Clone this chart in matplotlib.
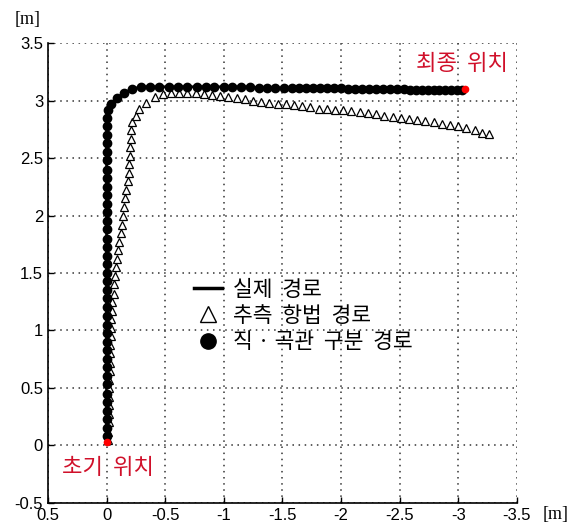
import matplotlib.pyplot as plt
from matplotlib.lines import Line2D

plt.rcParams['font.family'] = ['Liberation Sans', 'Noto Sans CJK KR', 'DejaVu Sans']

# 직·곡관 구분 경로 (circles), also the actual path
circ_x = [0.0] * 38 + [-0.01, -0.04, -0.09, -0.15, -0.22, -0.29,
          -0.37, -0.45, -0.53, -0.61, -0.69, -0.77, -0.85, -0.92, -1.00, -1.07,
          -1.15, -1.22, -1.30, -1.37, -1.44, -1.51, -1.58, -1.64, -1.70, -1.76,
          -1.82, -1.88, -1.94, -2.00, -2.06, -2.12, -2.18, -2.24, -2.30, -2.36,
          -2.42, -2.48, -2.54, -2.59, -2.64, -2.69, -2.74, -2.79, -2.84, -2.89,
          -2.94, -2.99, -3.03]
circ_y = [0.08, 0.15, 0.23, 0.30, 0.38, 0.45, 0.53, 0.60, 0.68, 0.75, 0.83, 0.90,
          0.98, 1.05, 1.13, 1.20, 1.28, 1.35, 1.43, 1.50, 1.58, 1.65, 1.73, 1.80,
          1.88, 1.95, 2.03, 2.10, 2.18, 2.25, 2.33, 2.40, 2.48, 2.55, 2.63, 2.70,
          2.78, 2.85,
          2.92, 2.97, 3.02, 3.07, 3.10, 3.12,
          3.12, 3.12, 3.12, 3.12, 3.12, 3.12, 3.12, 3.12, 3.12, 3.12,
          3.12, 3.12, 3.11, 3.11, 3.11, 3.11, 3.11, 3.11, 3.11, 3.11,
          3.11, 3.11, 3.11, 3.11, 3.10, 3.10, 3.10, 3.10, 3.10, 3.10,
          3.10, 3.10, 3.10, 3.09, 3.09, 3.09, 3.09, 3.09, 3.09, 3.09,
          3.09, 3.09, 3.09]

# 추측 항법 경로 (triangles)
tri_x = [-0.01, -0.01, -0.02, -0.02, -0.02, -0.02, -0.02, -0.02, -0.03, -0.03,
         -0.03, -0.03, -0.04, -0.04, -0.04, -0.05, -0.05, -0.06, -0.06, -0.07,
         -0.08, -0.09, -0.10, -0.11, -0.12, -0.13, -0.14, -0.15, -0.16, -0.17,
         -0.18, -0.19, -0.19, -0.20, -0.20, -0.21, -0.21, -0.22, -0.25, -0.28,
         -0.34, -0.41, -0.48, -0.55,
         -0.62, -0.69, -0.76, -0.83, -0.90, -0.97, -1.04, -1.11, -1.18, -1.25,
         -1.32, -1.39, -1.46, -1.53, -1.60, -1.67, -1.74, -1.81, -1.88, -1.95,
         -2.02, -2.09, -2.16, -2.23, -2.30, -2.37, -2.44, -2.51, -2.58, -2.65,
         -2.72, -2.79, -2.86, -2.93, -3.00, -3.07, -3.14, -3.20, -3.26]
tri_y = [0.05, 0.12, 0.20, 0.27, 0.35, 0.42, 0.50, 0.57, 0.65, 0.72,
         0.80, 0.87, 0.95, 1.02, 1.10, 1.17, 1.25, 1.32, 1.40, 1.47,
         1.55, 1.62, 1.70, 1.77, 1.85, 1.92, 2.00, 2.07, 2.15, 2.22,
         2.30, 2.37, 2.45, 2.52, 2.60, 2.67, 2.74, 2.81, 2.87, 2.93,
         2.98, 3.03, 3.06, 3.07,
         3.07, 3.07, 3.07, 3.06, 3.05, 3.04, 3.03, 3.02, 3.01, 3.00,
         2.99, 2.98, 2.97, 2.97, 2.96, 2.95, 2.94, 2.93, 2.93, 2.92,
         2.92, 2.91, 2.90, 2.89, 2.88, 2.87, 2.86, 2.85, 2.84, 2.83,
         2.82, 2.81, 2.80, 2.79, 2.78, 2.76, 2.74, 2.72, 2.71]

start_pt = (0.0, 0.03)
end_pt = (-3.06, 3.10)

xticks = [0.5, 0, -0.5, -1, -1.5, -2, -2.5, -3, -3.5]
yticks = [-0.5, 0, 0.5, 1, 1.5, 2, 2.5, 3, 3.5]
red = '#d0102a'

fig = plt.figure(figsize=(5.78, 5.26), dpi=100)
ax = fig.add_axes([0.083, 0.044, 0.811, 0.874])

ax.plot(circ_x, circ_y, '-', color='black', lw=2)
ax.plot(tri_x, tri_y, '^', mfc='white', mec='black', ms=5.5, mew=0.9)
ax.plot(circ_x, circ_y, 'o', color='black', ms=6)
ax.plot(*start_pt, 'o', color='red', ms=4.5)
ax.plot(*end_pt, 'o', color='red', ms=4.5)

ax.set_xlim(0.5, -3.5)
ax.set_ylim(-0.5, 3.5)
ax.set_xticks(xticks)
ax.set_yticks(yticks)
ax.set_xticklabels([f'{t:g}' for t in xticks])
ax.set_yticklabels([f'{t:g}' for t in yticks])
ax.tick_params(direction='in', labelsize=12, length=4, width=1)
ax.grid(True, linestyle=(0, (1, 3)), color='#333333', lw=1.1)
ax.spines['top'].set_visible(False)
ax.spines['right'].set_visible(False)
ax.spines['left'].set_linewidth(1.2)
ax.spines['bottom'].set_linewidth(1.2)

ax.text(-3.03, 3.32, '최종  위치', color=red, fontsize=16, ha='center', va='center',
        family=['Noto Sans CJK KR'])
ax.text(-0.01, -0.19, '초기  위치', color=red, fontsize=16, ha='center', va='center',
        family=['Noto Sans CJK KR'])

fig.text(0.048, 0.962, '[m]', fontsize=13, family='Liberation Serif', ha='center', va='center')
fig.text(0.962, 0.022, '[m]', fontsize=13, family='Liberation Serif', ha='center', va='center')

handles = [
    Line2D([], [], color='black', lw=2.5),
    Line2D([], [], marker='^', ls='', mfc='white', mec='black', ms=12, mew=1),
    Line2D([], [], marker='o', ls='', color='black', ms=11),
]
labels = ['실제  경로', '추측  항법  경로', '직 · 곡관  구분  경로']
leg = ax.legend(handles, labels, loc='upper left', bbox_to_anchor=(0.27, 0.53),
                frameon=False, handlelength=1.3, handletextpad=0.5, labelspacing=0.2,
                prop={'family': 'Noto Sans CJK KR', 'size': 15.5})

fig.savefig('out.png', dpi=100)
